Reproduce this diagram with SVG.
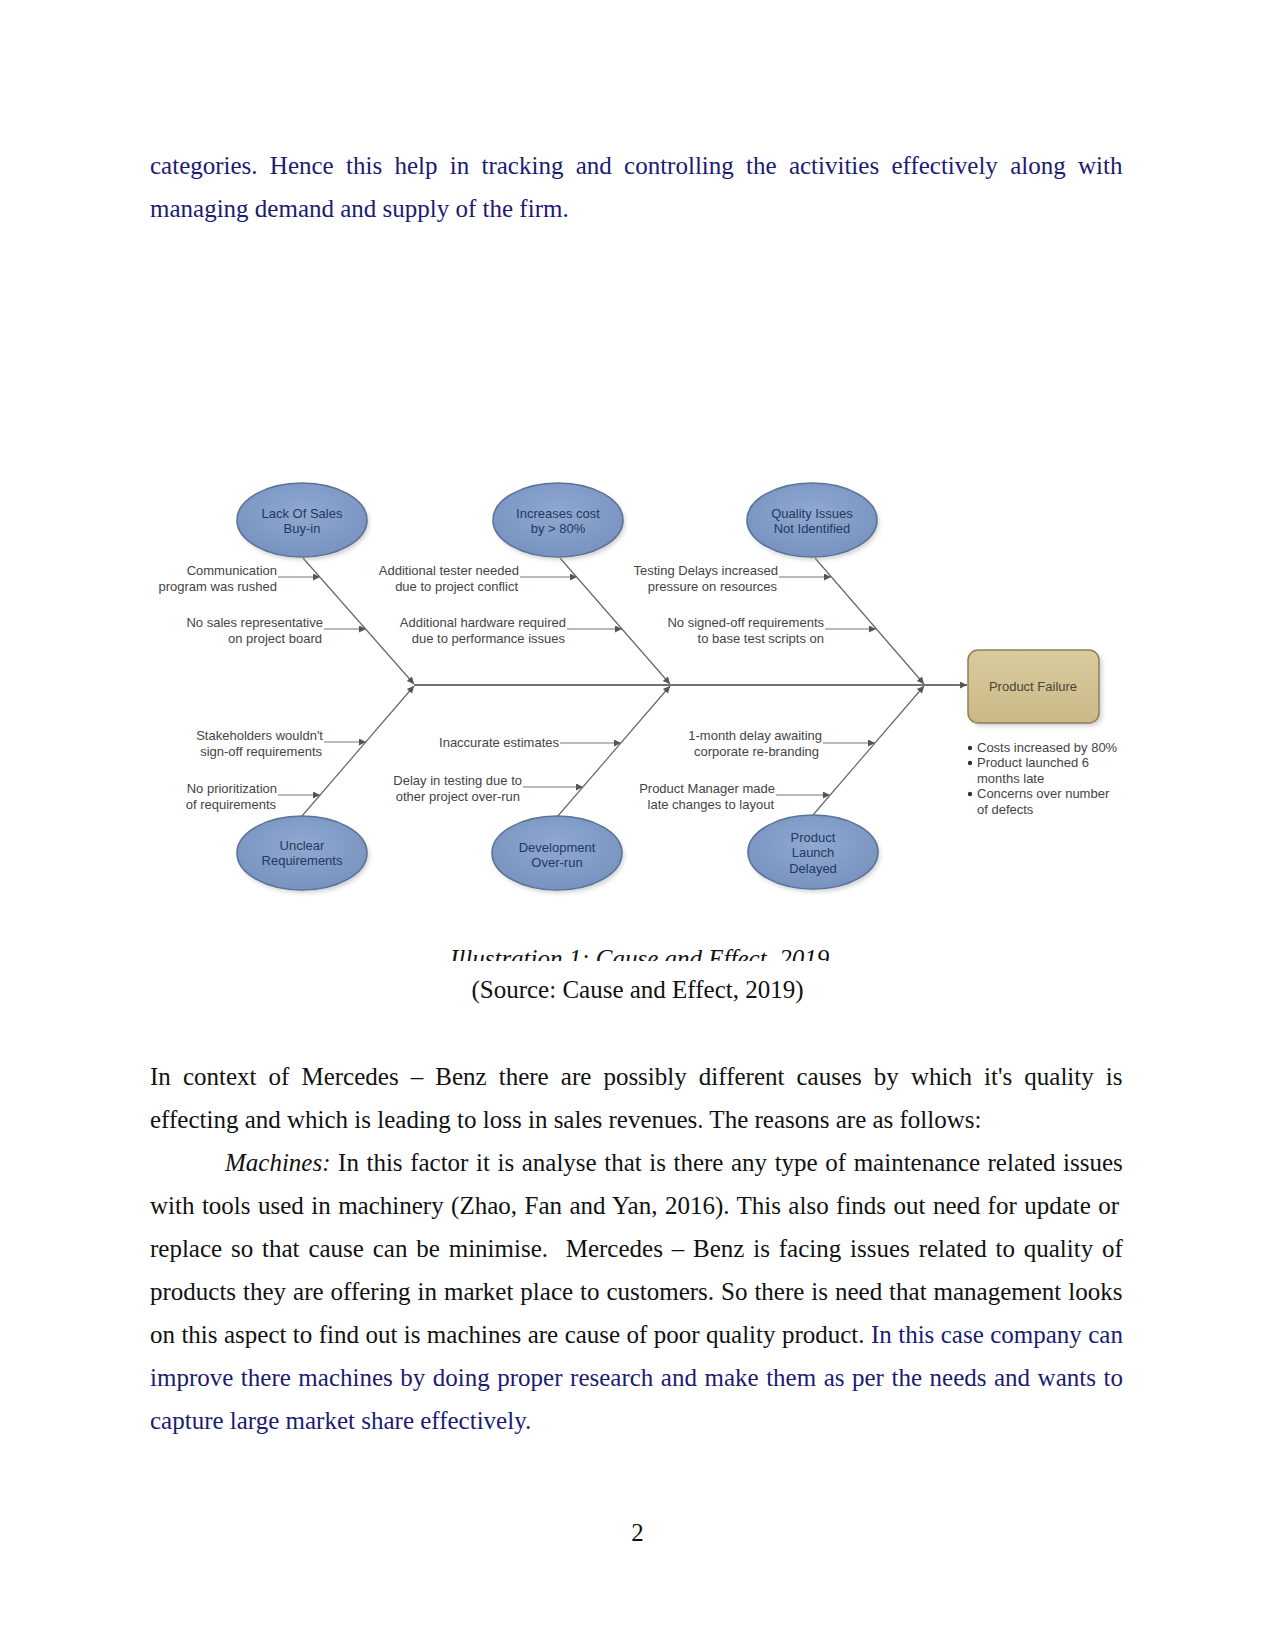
<svg xmlns="http://www.w3.org/2000/svg" width="1275" height="1651" viewBox="0 0 1275 1651">
<style>
.body{font-family:"Liberation Serif","Times New Roman",serif;font-size:25px;fill:#111}
.blue{fill:#1b1b73}
.lbl{font-family:"Liberation Sans",Arial,sans-serif;font-size:13px;fill:#444}
.nt{font-family:"Liberation Sans",Arial,sans-serif;font-size:13px;fill:#263760;text-anchor:middle}
.bone{stroke:#666;stroke-width:1.2;fill:none}
.cause{stroke:#777;stroke-width:1.2;fill:none}
.spine{stroke:#444;stroke-width:1.4;fill:none}
.ell{fill:url(#eg);stroke:#5a7398;stroke-width:1.6}
.sh{fill:#9a9a9a;opacity:0.45;filter:url(#blur)}
</style>
<defs>
<radialGradient id="eg" cx="50%" cy="40%" r="60%">
<stop offset="0" stop-color="#8fa9d0"/>
<stop offset="1" stop-color="#7793bf"/>
</radialGradient>
<linearGradient id="bg" x1="0" y1="0" x2="0" y2="1">
<stop offset="0" stop-color="#dacb9d"/>
<stop offset="1" stop-color="#cbb987"/>
</linearGradient>
<filter id="blur" x="-20%" y="-20%" width="140%" height="140%"><feGaussianBlur stdDeviation="2"/></filter>
<marker id="ah" viewBox="0 0 10 10" refX="10" refY="5" markerWidth="9" markerHeight="7" markerUnits="userSpaceOnUse" orient="auto"><path d="M0,0 L10,5 L0,10 z" fill="#555"/></marker>
<clipPath id="capclip"><rect x="0" y="0" width="1275" height="961"/></clipPath>
</defs>
<rect width="1275" height="1651" fill="#fff"/>

<g id="text-top">
<text class="body blue" x="150" y="174" word-spacing="6.04">categories. Hence this help in tracking and controlling the activities effectively along with</text>
<text class="body blue" x="150" y="217">managing demand and supply of the firm.</text>
</g>

<g id="connectors">
<line class="spine" x1="414" y1="685" x2="967" y2="685" marker-end="url(#ah)"/>
<line class="bone" x1="303" y1="558" x2="414" y2="684" marker-end="url(#ah)"/>
<line class="bone" x1="560" y1="558" x2="670" y2="684" marker-end="url(#ah)"/>
<line class="bone" x1="815" y1="558" x2="924" y2="684" marker-end="url(#ah)"/>
<line class="bone" x1="302" y1="816" x2="414" y2="686" marker-end="url(#ah)"/>
<line class="bone" x1="557" y1="817" x2="670" y2="686" marker-end="url(#ah)"/>
<line class="bone" x1="813" y1="815" x2="924" y2="686" marker-end="url(#ah)"/>
<line class="cause" x1="278" y1="577" x2="320" y2="577" marker-end="url(#ah)"/>
<line class="cause" x1="324" y1="629" x2="366" y2="629" marker-end="url(#ah)"/>
<line class="cause" x1="520" y1="577" x2="577" y2="577" marker-end="url(#ah)"/>
<line class="cause" x1="567" y1="629" x2="622" y2="629" marker-end="url(#ah)"/>
<line class="cause" x1="779" y1="577" x2="831" y2="577" marker-end="url(#ah)"/>
<line class="cause" x1="825" y1="629" x2="876" y2="629" marker-end="url(#ah)"/>
<line class="cause" x1="324" y1="742" x2="366" y2="742" marker-end="url(#ah)"/>
<line class="cause" x1="278" y1="795" x2="320" y2="795" marker-end="url(#ah)"/>
<line class="cause" x1="560" y1="743" x2="621" y2="743" marker-end="url(#ah)"/>
<line class="cause" x1="523" y1="787" x2="583" y2="787" marker-end="url(#ah)"/>
<line class="cause" x1="823" y1="743" x2="875" y2="743" marker-end="url(#ah)"/>
<line class="cause" x1="776" y1="795" x2="830" y2="795" marker-end="url(#ah)"/>
</g>

<g id="cause-labels" class="lbl" text-anchor="end">
<text x="277" y="575">Communication</text><text x="277" y="591">program was rushed</text>
<text x="323" y="627">No sales representative</text><text x="322" y="643">on project board</text>
<text x="519" y="575">Additional tester needed</text><text x="518" y="591">due to project conflict</text>
<text x="566" y="627">Additional hardware required</text><text x="565" y="643">due to performance issues</text>
<text x="778" y="575">Testing Delays increased</text><text x="777" y="591">pressure on resources</text>
<text x="824" y="627">No signed-off requirements</text><text x="824" y="643">to base test scripts on</text>
<text x="323" y="740">Stakeholders wouldn't</text><text x="322" y="756">sign-off requirements</text>
<text x="277" y="793">No prioritization</text><text x="276" y="809">of requirements</text>
<text x="559" y="747">Inaccurate estimates</text>
<text x="522" y="785">Delay in testing due to</text><text x="520" y="801">other project over-run</text>
<text x="822" y="740">1-month delay awaiting</text><text x="819" y="756">corporate re-branding</text>
<text x="775" y="793">Product Manager made</text><text x="774" y="809">late changes to layout</text>
</g>

<g id="n-lack-sales">
<ellipse class="sh" cx="304" cy="523" rx="65" ry="37"/>
<ellipse class="ell" cx="302" cy="520" rx="65" ry="37"/>
<text class="nt" x="302" y="517.5">Lack Of Sales</text><text class="nt" x="302" y="532.5">Buy-in</text>
</g>
<g id="n-increases-cost">
<ellipse class="sh" cx="560" cy="523" rx="65" ry="37"/>
<ellipse class="ell" cx="558" cy="520" rx="65" ry="37"/>
<text class="nt" x="558" y="517.5">Increases cost</text><text class="nt" x="558" y="532.5">by &gt; 80%</text>
</g>
<g id="n-quality">
<ellipse class="sh" cx="814" cy="523" rx="65" ry="37"/>
<ellipse class="ell" cx="812" cy="520" rx="65" ry="37"/>
<text class="nt" x="812" y="517.5">Quality Issues</text><text class="nt" x="812" y="532.5">Not Identified</text>
</g>
<g id="n-unclear">
<ellipse class="sh" cx="304" cy="856" rx="65" ry="37"/>
<ellipse class="ell" cx="302" cy="853" rx="65" ry="37"/>
<text class="nt" x="302" y="849.5">Unclear</text><text class="nt" x="302" y="864.5">Requirements</text>
</g>
<g id="n-development">
<ellipse class="sh" cx="559" cy="856" rx="65" ry="37"/>
<ellipse class="ell" cx="557" cy="853" rx="65" ry="37"/>
<text class="nt" x="557" y="851.5">Development</text><text class="nt" x="557" y="866.5">Over-run</text>
</g>
<g id="n-launch">
<ellipse class="sh" cx="815" cy="855" rx="65" ry="37"/>
<ellipse class="ell" cx="813" cy="852" rx="65" ry="37"/>
<text class="nt" x="813" y="841.5">Product</text><text class="nt" x="813" y="856.5">Launch</text><text class="nt" x="813" y="872.5">Delayed</text>
</g>
<g id="n-product-failure">
<rect x="971" y="653" width="131" height="73" rx="10" fill="#9a9a9a" opacity="0.45" filter="url(#blur)"/>
<rect x="968" y="650" width="131" height="73" rx="10" fill="url(#bg)" stroke="#8d805c" stroke-width="1.5"/>
<text class="nt" x="1033" y="690.5" style="fill:#4a4636">Product Failure</text>
</g>
<g id="effects" class="lbl">
<circle cx="970" cy="748" r="2.2" fill="#333"/>
<circle cx="970" cy="763" r="2.2" fill="#333"/>
<circle cx="970" cy="794" r="2.2" fill="#333"/>
<text x="977" y="751.5">Costs increased by 80%</text>
<text x="977" y="766.5">Product launched 6</text>
<text x="977" y="782.5">months late</text>
<text x="977" y="797.5">Concerns over number</text>
<text x="977" y="813.5">of defects</text>
</g>

<g id="captions">
<text class="body" x="450" y="967" font-style="italic" clip-path="url(#capclip)">Illustration 1: Cause and Effect, 2019</text>
<text class="body" x="637.5" y="998" text-anchor="middle">(Source: Cause and Effect, 2019)</text>
</g>

<g id="text-bottom">
<text class="body" x="150" y="1085" word-spacing="5.83">In context of Mercedes – Benz there are possibly different causes by which it's quality is</text>
<text class="body" x="150" y="1128">effecting and which is leading to loss in sales revenues. The reasons are as follows:</text>
<text class="body" x="225" y="1171" word-spacing="1.31"><tspan font-style="italic">Machines:</tspan> In this factor it is analyse that is there any type of maintenance related issues</text>
<text class="body" x="150" y="1214" word-spacing="1.2">with tools used in machinery (Zhao, Fan and Yan, 2016). This also finds out need for update or</text>
<text class="body" x="150" y="1257" word-spacing="2.59" style="white-space:pre">replace so that cause can be minimise.  Mercedes – Benz is facing issues related to quality of</text>
<text class="body" x="150" y="1300" word-spacing="0.71">products they are offering in market place to customers. So there is need that management looks</text>
<text class="body" x="150" y="1343" word-spacing="0.17">on this aspect to find out is machines are cause of poor quality product. <tspan class="blue">In this case company can</tspan></text>
<text class="body blue" x="150" y="1386" word-spacing="1.28">improve there machines by doing proper research and make them as per the needs and wants to</text>
<text class="body blue" x="150" y="1429">capture large market share effectively.</text>
<text class="body" x="637.5" y="1541" text-anchor="middle">2</text>
</g>
</svg>
